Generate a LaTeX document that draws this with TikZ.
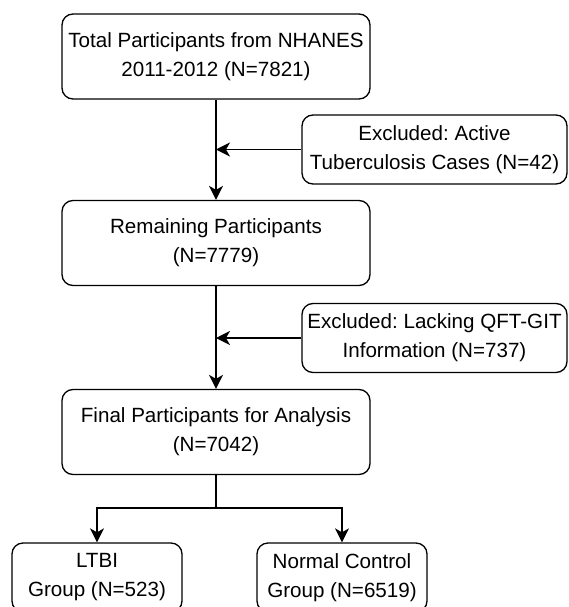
\documentclass[tikz,border=0pt]{standalone}
\usepackage{fontspec}
\setmainfont{Liberation Sans}
\usepackage{tikz}
\usetikzlibrary{arrows.meta,positioning}
\frenchspacing

\tikzset{
  flowbox/.style={draw,rounded corners=11pt,line width=1.3pt,align=center,
    font=\fontsize{20.6}{29}\selectfont,inner sep=0pt},
  mainbox/.style={flowbox,minimum width=308pt,minimum height=85pt},
  exclbox/.style={flowbox,minimum width=265pt,minimum height=69pt},
  groupbox/.style={flowbox,minimum width=170pt,minimum height=69pt},
  flowline/.style={line width=1.3pt,-{Stealth[length=14pt,width=14pt,inset=4pt]}}
}

\begin{document}
\begin{tikzpicture}[x=1pt,y=-1pt]
  \useasboundingbox (0,0) rectangle (568,607);
  \node[mainbox] (total) at (216,56.5) {Total Participants from NHANES\\2011-2012 (N=7821)};
  \node[exclbox] (excl1) at (434.5,149.5) {Excluded: Active\\Tuberculosis Cases (N=42)};
  \node[mainbox] (remain) at (216,243) {Remaining Participants\\(N=7779)};
  \node[exclbox] (excl2) at (434.5,338) {Excluded: Lacking QFT-GIT\\Information (N=737)};
  \node[mainbox] (final) at (216,432) {Final Participants for Analysis\\(N=7042)};
  \node[groupbox] (ltbi) at (97,577.5) {LTBI\\Group (N=523)};
  \node[groupbox] (normal) at (342,577.5) {Normal Control\\Group (N=6519)};
  \coordinate (split) at (216,508);
  % main flow
  \draw[flowline] (total.south) -- (remain.north);
  \draw[flowline] (remain.south) -- (final.north);
  \draw[flowline] (excl1.west) -- (excl1.west -| total.south);
  \draw[flowline] (excl2.west) -- (excl2.west -| remain.south);
  % split into groups
  \draw[line width=1.3pt] (final.south) -- (split);
  \draw[flowline] (split) -| (ltbi.north);
  \draw[flowline] (split) -| (normal.north);
\end{tikzpicture}
\end{document}
